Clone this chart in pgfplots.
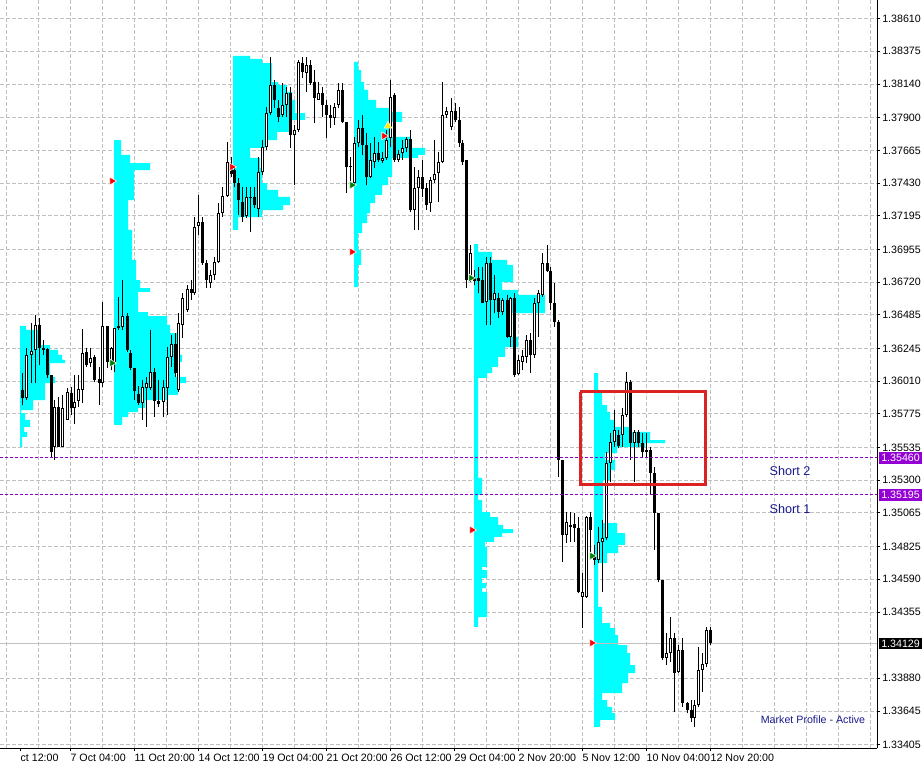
\documentclass[border=0pt]{standalone}
\usepackage{fontspec}
\setmainfont{Liberation Sans}
\usepackage{pgfplots}
\pgfplotsset{compat=1.18}
\usepackage{pgfplotstable}

\definecolor{gridgray}{RGB}{192,192,192}
\definecolor{mpcyan}{RGB}{0,255,255}
\definecolor{dv}{RGB}{148,0,211}
\definecolor{dvline}{RGB}{140,0,200}
\definecolor{navytext}{RGB}{25,25,140}
\definecolor{boxred}{RGB}{220,35,35}

% H4 candles, bullish (x = chart position)
\pgfplotstableread{
x o h l c
26 1.35890 1.36248 1.35875 1.36198
31 1.36198 1.36427 1.35996 1.36227
35 1.36234 1.36484 1.35996 1.36413
43 1.36234 1.36305 1.36198 1.36248
54 1.35538 1.35875 1.35445 1.35825
62 1.35538 1.35911 1.35538 1.35818
67 1.35732 1.35961 1.35732 1.35933
74 1.35818 1.36054 1.35703 1.35861
78 1.35868 1.36054 1.35825 1.35953
82 1.35947 1.36384 1.35853 1.36212
90 1.36140 1.36248 1.36112 1.36177
102 1.35996 1.36578 1.35968 1.36406
111 1.36140 1.36255 1.36090 1.36248
114 1.36140 1.36392 1.36076 1.36392
118 1.36392 1.36614 1.36377 1.36406
122 1.36399 1.36735 1.36377 1.36477
142 1.35853 1.36018 1.35732 1.35968
146 1.35961 1.36040 1.35682 1.35996
150 1.35961 1.36377 1.35947 1.36076
163 1.35861 1.36018 1.35753 1.35968
167 1.35961 1.36255 1.35767 1.36184
171 1.36184 1.36341 1.36112 1.36276
178 1.35947 1.36498 1.35933 1.36427
182 1.36413 1.36642 1.36320 1.36607
187 1.36520 1.36699 1.36506 1.36670
194 1.36642 1.37187 1.36628 1.37116
198 1.37123 1.37345 1.37058 1.37152
210 1.36713 1.36807 1.36678 1.36771
214 1.36771 1.36901 1.36735 1.36865
218 1.36865 1.37287 1.36857 1.37215
222 1.37215 1.37402 1.37187 1.37338
227 1.37338 1.37725 1.37331 1.37582
246 1.37194 1.37402 1.37180 1.37331
250 1.37324 1.37402 1.37080 1.37331
258 1.37244 1.37618 1.37187 1.37510
262 1.37510 1.37739 1.37488 1.37689
266 1.37689 1.37976 1.37668 1.37932
270 1.37932 1.38335 1.37918 1.38133
282 1.37918 1.38147 1.37904 1.37990
286 1.37990 1.38119 1.37904 1.38076
294 1.37775 1.37847 1.37416 1.37811
298 1.37811 1.38313 1.37797 1.38299
306 1.38219 1.38335 1.38084 1.38277
318 1.38026 1.38155 1.38026 1.38076
334 1.37897 1.38004 1.37847 1.37976
338 1.37990 1.38147 1.37969 1.38098
354 1.37430 1.37761 1.37416 1.37717
358 1.37717 1.37883 1.37689 1.37826
370 1.37474 1.37717 1.37467 1.37596
374 1.37582 1.37761 1.37539 1.37646
382 1.37589 1.37654 1.37574 1.37611
386 1.37611 1.37811 1.37596 1.37739
390 1.37754 1.38169 1.37689 1.38048
398 1.37596 1.37668 1.37582 1.37639
402 1.37646 1.37739 1.37596 1.37682
406 1.37682 1.37761 1.37654 1.37746
414 1.37237 1.37546 1.37094 1.37395
418 1.37395 1.37524 1.37094 1.37474
430 1.37287 1.37474 1.37223 1.37452
434 1.37452 1.37739 1.37430 1.37495
438 1.37502 1.37654 1.37295 1.37582
442 1.37582 1.38155 1.37574 1.37918
446 1.37918 1.37976 1.37897 1.37947
451 1.37833 1.38041 1.37811 1.37947
470 1.36735 1.36986 1.36721 1.36929
486 1.36578 1.36901 1.36413 1.36857
494 1.36592 1.36771 1.36498 1.36642
502 1.36506 1.36607 1.36484 1.36592
510 1.36327 1.36614 1.36255 1.36607
518 1.36061 1.36198 1.36054 1.36162
522 1.36148 1.36234 1.36090 1.36191
526 1.36184 1.36341 1.36140 1.36305
534 1.36198 1.36607 1.36177 1.36570
538 1.36570 1.36664 1.36327 1.36642
542 1.36628 1.36929 1.36614 1.36857
566 1.34907 1.35072 1.34849 1.35001
570 1.34965 1.35072 1.34857 1.34979
582 1.34463 1.34634 1.34240 1.34499
586 1.34463 1.35043 1.34456 1.35036
598 1.34728 1.34965 1.34706 1.34857
602 1.34857 1.35015 1.34499 1.34886
606 1.34886 1.35503 1.34871 1.35424
610 1.35424 1.35638 1.35287 1.35574
614 1.35574 1.35803 1.35538 1.35660
622 1.35624 1.35818 1.35538 1.35767
626 1.35767 1.36076 1.35753 1.36004
634 1.35566 1.35660 1.35287 1.35646
666 1.34025 1.34204 1.33975 1.34061
670 1.34061 1.34319 1.33997 1.34168
678 1.33925 1.34118 1.33917 1.34083
694 1.33595 1.33724 1.33531 1.33688
698 1.33688 1.34104 1.33674 1.33939
702 1.33939 1.34061 1.33782 1.33982
706 1.33982 1.34248 1.33960 1.34226
}\bull

% bearish candles
\pgfplotstableread{
x o h l c
22 1.35947 1.36068 1.35839 1.35890
39 1.36413 1.36463 1.36126 1.36248
47 1.36240 1.36248 1.36033 1.36054
51 1.36054 1.36054 1.35467 1.35503
58 1.35825 1.35897 1.35538 1.35538
71 1.35925 1.35968 1.35767 1.35818
86 1.36220 1.36248 1.36112 1.36126
94 1.36184 1.36198 1.36004 1.36018
99 1.36025 1.36112 1.35839 1.35996
107 1.36406 1.36406 1.36105 1.36148
127 1.36477 1.36498 1.36220 1.36234
130 1.36212 1.36234 1.36090 1.36105
134 1.36105 1.36105 1.35875 1.35940
138 1.35918 1.35975 1.35839 1.35853
154 1.36076 1.36105 1.35753 1.35868
158 1.35868 1.36018 1.35825 1.35846
175 1.36276 1.36355 1.36040 1.36068
191 1.36670 1.36735 1.36592 1.36642
202 1.37152 1.37187 1.36843 1.36857
206 1.36857 1.36879 1.36678 1.36735
231 1.37560 1.37618 1.37474 1.37495
234 1.37524 1.37560 1.37402 1.37430
238 1.37430 1.37467 1.37201 1.37309
242 1.37295 1.37402 1.37152 1.37187
254 1.37331 1.37402 1.37252 1.37273
274 1.38133 1.38169 1.37969 1.38026
278 1.37969 1.38026 1.37869 1.37904
290 1.38076 1.38119 1.37682 1.37775
302 1.38291 1.38335 1.38184 1.38227
310 1.38277 1.38313 1.38133 1.38147
314 1.38155 1.38241 1.37861 1.38041
322 1.38076 1.38119 1.37904 1.37990
326 1.37990 1.38026 1.37754 1.37918
330 1.37918 1.37990 1.37826 1.37897
342 1.38098 1.38147 1.37861 1.37869
346 1.37869 1.37869 1.37359 1.37546
350 1.37553 1.37618 1.37438 1.37546
362 1.37826 1.37918 1.37632 1.37703
366 1.37703 1.37789 1.37416 1.37474
378 1.37646 1.37725 1.37582 1.37596
394 1.38062 1.38076 1.37582 1.37596
410 1.37746 1.37811 1.37223 1.37237
422 1.37474 1.37596 1.37331 1.37388
426 1.37395 1.37430 1.37237 1.37273
455 1.37947 1.38004 1.37869 1.37883
459 1.37883 1.37976 1.37689 1.37717
462 1.37717 1.37739 1.37560 1.37582
466 1.37596 1.37596 1.36678 1.36735
474 1.36750 1.36807 1.36699 1.36728
478 1.36750 1.36829 1.36642 1.36728
482 1.36735 1.36829 1.36570 1.36570
490 1.36857 1.36901 1.36413 1.36592
498 1.36607 1.36642 1.36463 1.36506
507 1.36592 1.36628 1.36320 1.36327
514 1.36607 1.36642 1.36040 1.36054
530 1.36305 1.36355 1.36068 1.36198
547 1.36857 1.36986 1.36793 1.36800
550 1.36800 1.36829 1.36520 1.36570
554 1.36570 1.36713 1.36399 1.36435
558 1.36435 1.36449 1.35323 1.35445
562 1.35445 1.35445 1.34714 1.34907
574 1.34986 1.35064 1.34857 1.34957
578 1.34957 1.35036 1.34491 1.34499
590 1.35036 1.35072 1.34728 1.34943
594 1.34757 1.34836 1.34692 1.34728
618 1.35624 1.35660 1.35531 1.35545
630 1.36004 1.36018 1.35445 1.35566
638 1.35646 1.35660 1.35538 1.35566
642 1.35566 1.35638 1.35459 1.35503
646 1.35517 1.35638 1.35459 1.35503
650 1.35517 1.35538 1.35194 1.35351
654 1.35351 1.35395 1.34800 1.35064
658 1.35064 1.35064 1.34570 1.34584
662 1.34584 1.34584 1.34011 1.34025
674 1.34168 1.34204 1.33638 1.33917
682 1.34083 1.34168 1.33674 1.33702
687 1.33702 1.33710 1.33630 1.33652
691 1.33652 1.33724 1.33567 1.33595
710 1.34226 1.34248 1.34118 1.34133
}\bear

\setlength{\fboxsep}{1.5pt}

\pgfplotsset{
  candle/.style={only marks, mark=*, mark size=0pt, mark options={draw=none, fill=none}, forget plot,
    error bars/y dir=plus, error bars/y explicit, error bars/error mark=none},
}

\begin{document}
\begin{tikzpicture}
\begin{axis}[
    scale only axis,
    width=657.75pt, height=561pt,
    xmin=0, xmax=877,
    ymin=1.33380, ymax=1.38743,
    axis x line*=bottom, axis y line*=right,
    axis line style={black, line width=0.75pt},
    tick align=outside,
    major tick length=2.25pt,
    minor tick length=0pt,
    tick style={black, line width=0.75pt},
    ytick={1.38610,1.38375,1.38140,1.37900,1.37665,1.37430,1.37195,1.36955,1.36720,1.36485,1.36245,1.36010,1.35775,1.35535,1.35300,1.35065,1.34825,1.34590,1.34355,1.33880,1.33645,1.33405},
    yticklabels={1.38610,1.38375,1.38140,1.37900,1.37665,1.37430,1.37195,1.36955,1.36720,1.36485,1.36245,1.36010,1.35775,1.35535,1.35300,1.35065,1.34825,1.34590,1.34355,1.33880,1.33645,1.33405},
    extra y ticks={1.35460,1.35195,1.34129},
    extra y tick labels={\colorbox{dv}{\textcolor{white}{1.35460}},\colorbox{dv}{\textcolor{white}{1.35195}},\colorbox{black}{\textcolor{white}{1.34129}}},
    extra y tick style={grid=none, major tick length=0pt},
    xtick={20,70,134,198,262,326,390,454,518,582,646,710},
    xticklabels={ct 12:00,7 Oct 04:00,11 Oct 20:00,14 Oct 12:00,19 Oct 04:00,21 Oct 20:00,26 Oct 12:00,29 Oct 04:00,2 Nov 20:00,5 Nov 12:00,10 Nov 04:00,12 Nov 20:00},
    minor xtick={6,38,...,870},
    xmajorgrids=false, xminorgrids=true, ymajorgrids=true,
    major grid style={gridgray, line width=0.75pt, dash pattern=on 3pt off 1.5pt},
    minor grid style={gridgray, line width=0.75pt, dash pattern=on 3pt off 1.5pt},
    tick label style={font=\fontsize{8}{9}\selectfont},
    yticklabel style={anchor=west, inner sep=0pt, xshift=1.5pt},
    xticklabel style={anchor=north west, inner sep=0pt, xshift=0.25pt, yshift=-2pt},
]

% market profiles
\addplot[fill=mpcyan, draw=none, forget plot] coordinates {(20,1.36406)(26,1.36406)(26,1.36377)(40,1.36377)(40,1.36269)(50,1.36269)(50,1.36234)(58,1.36234)(58,1.36198)(62,1.36198)(62,1.36162)(65,1.36162)(65,1.36140)(50,1.36140)(50,1.36040)(55,1.36040)(55,1.35996)(45,1.35996)(45,1.35875)(33,1.35875)(33,1.35803)(21,1.35803)(21,1.35781)(25,1.35781)(25,1.35732)(30,1.35732)(30,1.35682)(24,1.35682)(24,1.35646)(27,1.35646)(27,1.35610)(22,1.35610)(22,1.35538)(20,1.35538)(20,1.36406)};
\addplot[fill=mpcyan, draw=none, forget plot] coordinates {(114,1.37739)(121,1.37739)(121,1.37632)(130,1.37632)(130,1.37574)(150,1.37574)(150,1.37524)(134,1.37524)(134,1.37309)(128,1.37309)(128,1.37094)(132,1.37094)(132,1.36879)(136,1.36879)(136,1.36735)(140,1.36735)(140,1.36678)(150,1.36678)(150,1.36650)(138,1.36650)(138,1.36506)(148,1.36506)(148,1.36477)(167,1.36477)(167,1.36413)(170,1.36413)(170,1.36355)(178,1.36355)(178,1.36198)(182,1.36198)(182,1.36148)(175,1.36148)(175,1.36040)(186,1.36040)(186,1.35996)(178,1.35996)(178,1.35911)(168,1.35911)(168,1.35875)(145,1.35875)(145,1.35818)(138,1.35818)(138,1.35789)(128,1.35789)(128,1.35753)(122,1.35753)(122,1.35696)(114,1.35696)(114,1.37739)};
\addplot[fill=mpcyan, draw=none, forget plot] coordinates {(233,1.38342)(250,1.38342)(250,1.38320)(262,1.38320)(262,1.38291)(272,1.38291)(272,1.38155)(278,1.38155)(278,1.38133)(287,1.38133)(287,1.38084)(292,1.38084)(292,1.38026)(295,1.38026)(295,1.37932)(305,1.37932)(305,1.37883)(290,1.37883)(290,1.37797)(277,1.37797)(277,1.37739)(265,1.37739)(265,1.37682)(250,1.37682)(250,1.37611)(260,1.37611)(260,1.37539)(262,1.37539)(262,1.37430)(267,1.37430)(267,1.37381)(278,1.37381)(278,1.37331)(290,1.37331)(290,1.37273)(283,1.37273)(283,1.37237)(262,1.37237)(262,1.37187)(238,1.37187)(238,1.37094)(233,1.37094)(233,1.38342)};
\addplot[fill=mpcyan, draw=none, forget plot] coordinates {(354,1.38299)(358,1.38299)(358,1.38241)(361,1.38241)(361,1.38155)(364,1.38155)(364,1.38098)(368,1.38098)(368,1.38026)(376,1.38026)(376,1.37969)(390,1.37969)(390,1.37940)(402,1.37940)(402,1.37869)(390,1.37869)(390,1.37761)(410,1.37761)(410,1.37682)(425,1.37682)(425,1.37632)(418,1.37632)(418,1.37611)(392,1.37611)(392,1.37474)(388,1.37474)(388,1.37416)(382,1.37416)(382,1.37345)(375,1.37345)(375,1.37287)(370,1.37287)(370,1.37215)(367,1.37215)(367,1.37144)(362,1.37144)(362,1.37072)(358,1.37072)(358,1.36951)(361,1.36951)(361,1.36843)(358,1.36843)(358,1.36685)(354,1.36685)(354,1.38299)};
\addplot[fill=mpcyan, draw=none, forget plot] coordinates {(474,1.36993)(478,1.36993)(478,1.36937)(492,1.36937)(492,1.36879)(507,1.36879)(507,1.36843)(513,1.36843)(513,1.36721)(502,1.36721)(502,1.36664)(518,1.36664)(518,1.36628)(545,1.36628)(545,1.36498)(512,1.36498)(512,1.36327)(518,1.36327)(518,1.36255)(505,1.36255)(505,1.36184)(498,1.36184)(498,1.36112)(492,1.36112)(492,1.36068)(487,1.36068)(487,1.36033)(478,1.36033)(478,1.35316)(482,1.35316)(482,1.35194)(478,1.35194)(478,1.35158)(482,1.35158)(482,1.35072)(490,1.35072)(490,1.35036)(498,1.35036)(498,1.34979)(503,1.34979)(503,1.34950)(513,1.34950)(513,1.34921)(502,1.34921)(502,1.34893)(494,1.34893)(494,1.34857)(485,1.34857)(485,1.34821)(487,1.34821)(487,1.34678)(482,1.34678)(482,1.34656)(487,1.34656)(487,1.34599)(482,1.34599)(482,1.34563)(486,1.34563)(486,1.34527)(482,1.34527)(482,1.34499)(487,1.34499)(487,1.34319)(478,1.34319)(478,1.34248)(474,1.34248)(474,1.36993)};
\addplot[fill=mpcyan, draw=none, forget plot] coordinates {(594,1.36068)(598,1.36068)(598,1.35933)(602,1.35933)(602,1.35839)(607,1.35839)(607,1.35789)(610,1.35789)(610,1.35732)(615,1.35732)(615,1.35682)(630,1.35682)(630,1.35646)(650,1.35646)(650,1.35588)(665,1.35588)(665,1.35566)(645,1.35566)(645,1.35538)(617,1.35538)(617,1.35495)(605,1.35495)(605,1.35445)(615,1.35445)(615,1.35373)(610,1.35373)(610,1.35301)(603,1.35301)(603,1.34993)(617,1.34993)(617,1.34921)(625,1.34921)(625,1.34836)(618,1.34836)(618,1.34778)(607,1.34778)(607,1.34706)(598,1.34706)(598,1.34391)(602,1.34391)(602,1.34276)(610,1.34276)(610,1.34240)(615,1.34240)(615,1.34190)(618,1.34190)(618,1.34118)(627,1.34118)(627,1.34061)(630,1.34061)(630,1.33975)(635,1.33975)(635,1.33917)(628,1.33917)(628,1.33846)(622,1.33846)(622,1.33774)(602,1.33774)(602,1.33724)(607,1.33724)(607,1.33674)(612,1.33674)(612,1.33630)(615,1.33630)(615,1.33581)(600,1.33581)(600,1.33531)(594,1.33531)(594,1.36068)};

% current price
\addplot[gridgray, line width=0.75pt, forget plot] coordinates {(0,1.34129) (877,1.34129)};

% wicks
\addplot[black, candle, error bars/error bar style={line width=0.75pt, solid, black}]
  table[x=x, y=l, y error plus expr=\thisrow{h}-\thisrow{l}] {\bull};
\addplot[black, candle, error bars/error bar style={line width=0.75pt, solid, black}]
  table[x=x, y=l, y error plus expr=\thisrow{h}-\thisrow{l}] {\bear};
% bodies
\addplot[black, candle, error bars/error bar style={line width=2.25pt, solid, black}]
  table[x=x, y=c, y error plus expr=\thisrow{o}-\thisrow{c}] {\bear};
\addplot[black, candle, error bars/error bar style={line width=2.25pt, solid, black}]
  table[x=x, y=o, y error plus expr=\thisrow{c}-\thisrow{o}] {\bull};
\addplot[white, candle, error bars/error bar style={line width=0.75pt, solid, white}]
  table[x=x, y expr=\thisrow{o}+0.00007, y error plus expr={max(\thisrow{c}-\thisrow{o}-0.00014,0)}] {\bull};

% order levels
\addplot[dvline, line width=0.75pt, dash pattern=on 2.25pt off 1.5pt, forget plot] coordinates {(0,1.35460) (877,1.35460)};
\addplot[dvline, line width=0.75pt, dash pattern=on 2.25pt off 1.5pt, forget plot] coordinates {(0,1.35195) (877,1.35195)};

% signal arrows
\addplot[only marks, mark=triangle*, mark size=3.4pt, mark options={rotate=-90, fill=red, draw=white, line width=0.4pt}, forget plot] coordinates {(112,1.37445) (232,1.37546) (352,1.36937) (384,1.37768) (472,1.34943) (592,1.34133)};
\addplot[only marks, mark=triangle*, mark size=3.4pt, mark options={rotate=-90, fill=green!50!black, draw=white, line width=0.4pt}, forget plot] coordinates {(112,1.36140) (352,1.37416) (471,1.36750) (592,1.34757)};
\addplot[only marks, mark=triangle*, mark size=3.4pt, mark options={rotate=-120, fill=yellow, draw=white, line width=0.4pt}, forget plot] coordinates {(388,1.37840)};

% zone box
\addplot[boxred, line width=2.25pt, forget plot] coordinates {(580,1.35933) (705,1.35933) (705,1.35272) (580,1.35272) (580,1.35933)};

\node[navytext, font=\fontsize{9.5}{11}\selectfont] at (axis cs:790,1.35366) {Short 2};
\node[navytext, font=\fontsize{9.5}{11}\selectfont] at (axis cs:790,1.35093) {Short 1};
\node[navytext, font=\fontsize{8}{9}\selectfont] at (axis cs:813,1.33581) {Market Profile - Active};
\end{axis}
\pgfresetboundingbox
\path[use as bounding box] (0,-14.25pt) rectangle (693pt,561pt);
\end{tikzpicture}
\end{document}
